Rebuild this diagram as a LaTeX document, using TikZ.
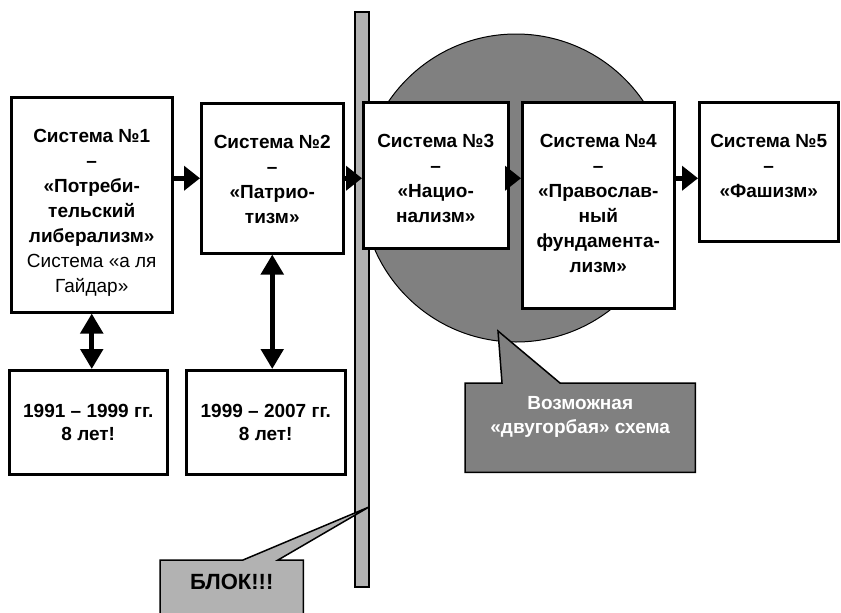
\documentclass[tikz,border=0pt]{standalone}
\usepackage{fontspec}
\setmainfont{Liberation Sans}
\usetikzlibrary{arrows.meta,backgrounds,positioning}
\definecolor{HumpGray}{RGB}{128,128,128}
\definecolor{BarGray}{RGB}{178,178,178}
\newcommand{\toptext}[3]{\parbox[c][#2pt][t]{#1pt}{\centering\vspace*{32pt}#3}}

\begin{document}
\begin{tikzpicture}[x=1pt, y=-1pt,
	sysbox/.style={draw, line width=2.5pt, fill=white, inner sep=0pt, anchor=north west,
		font=\fontsize{19}{25}\selectfont\bfseries},
	datebox/.style={draw, line width=2.5pt, fill=white, inner sep=0pt, anchor=north west,
		align=center, font=\fontsize{19}{23}\selectfont\bfseries},
	link/.style={line width=5pt, -{Triangle[length=16pt,width=24pt]}},
	span/.style={line width=5pt, {Triangle[length=20pt,width=22pt]}-{Triangle[length=20pt,width=22pt]}},
	calloutbox/.style={inner sep=0pt, anchor=north west, align=center}]
	\useasboundingbox (0,0) rectangle (841,613);
	% systems
	\node[sysbox] (s1) at (10,96) {\toptext{161}{215}{Система №1\\–\\«Потреби-\\тельский\\либерализм»\\\mdseries Система «а ля\\Гайдар»}};
	\node[sysbox] (s2) at (200,102) {\toptext{142}{150}{Система №2\\–\\«Патрио-\\тизм»}};
	\node[sysbox] (s3) at (362,101) {\toptext{145}{146}{Система №3\\–\\«Нацио-\\нализм»}};
	\node[sysbox] (s4) at (521,101) {\toptext{152}{206}{Система №4\\–\\«Православ-\\ный\\фундамента-\\лизм»}};
	\node[sysbox] (s5) at (698,101) {\toptext{139}{139}{Система №5\\–\\«Фашизм»}};
	% periods
	\node[datebox, minimum width=158, minimum height=104] (d1) at (8,369) {1991 – 1999 гг.\\8 лет!};
	\node[datebox, minimum width=159, minimum height=104] (d2) at (185,369) {1999 – 2007 гг.\\8 лет!};
	% arrows
	\draw[link] (s1.east |- s2.west) -- (s2.west);
	\draw[link] (s2.east) -- (s3.west |- s2.east);
	\draw[link] (s3.east |- s2.east) -- (s4.west |- s2.east);
	\draw[link] (s4.east |- s2.east) -- (s5.west |- s2.east);
	\draw[span] (s1.south) -- (s1.south |- d1.north);
	\draw[span] (s2.south) -- (s2.south |- d2.north);
	% callouts
	\coordinate (humptip) at (498,331);
	\coordinate (blocktip) at (369,507);
	\coordinate (pagefoot) at (0,630);
	\node[calloutbox, minimum width=230, minimum height=89, text depth=26pt, text=white,
		font=\fontsize{19}{24}\selectfont\bfseries] (hump) at (465,383) {Возможная\\«двугорбая» схема};
	\node[calloutbox, minimum width=143, minimum height=44,
		font=\fontsize{22}{26}\selectfont\bfseries] (block) at (160,560) {БЛОК!!!};
	\begin{scope}[on background layer]
		\draw[fill=HumpGray, line width=1pt] (516,188) circle (154pt);
		\draw[fill=BarGray, line width=1.2pt] (355,12) rectangle (369,587);
		\draw[fill=HumpGray, line width=1.5pt] (hump.north west) -- ([xshift=37pt]hump.north west) -- (humptip)
			-- ([xshift=95pt]hump.north west) -- (hump.north east) -- (hump.south east) -- (hump.south west) -- cycle;
		\draw[fill=BarGray, line width=1.5pt] (block.north west) -- ([xshift=83pt]block.north west) -- (blocktip)
			-- ([xshift=118pt]block.north west) -- (block.north east) -- (block.east |- pagefoot) -- (block.west |- pagefoot) -- cycle;
	\end{scope}
\end{tikzpicture}
\end{document}
